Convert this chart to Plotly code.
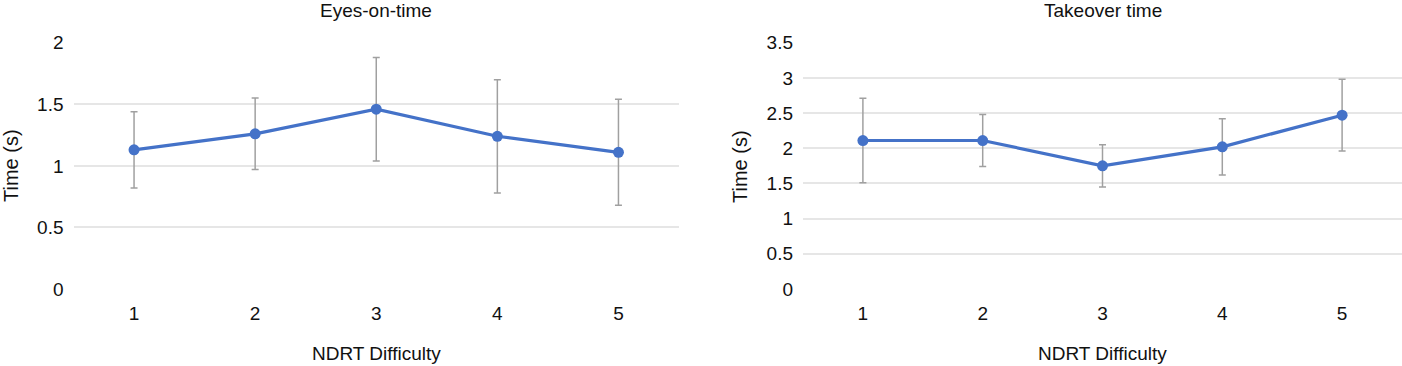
import plotly.graph_objects as go

difficulty = [1, 2, 3, 4, 5]
eyes_on_mean = [1.13, 1.26, 1.46, 1.24, 1.11]
eyes_on_err = [0.31, 0.29, 0.42, 0.46, 0.43]
takeover_mean = [2.11, 2.11, 1.75, 2.02, 2.47]
takeover_err = [0.60, 0.37, 0.30, 0.40, 0.51]

eyes_ticks = [0, 0.5, 1, 1.5, 2]
takeover_ticks = [0, 0.5, 1, 1.5, 2, 2.5, 3, 3.5]

W, H = 1402, 366
LINE = "#4472C8"
ERR = "#A0A0A0"
GRID = "#E6E6E6"
FONT = "Liberation Sans, Arial, Helvetica, sans-serif"
TXT = "#111111"
FS = 19

fig = go.Figure()
fig.add_trace(go.Scatter(
    x=difficulty, y=eyes_on_mean, mode="lines+markers",
    line=dict(color=LINE, width=3.2), marker=dict(color=LINE, size=11),
    error_y=dict(type="data", array=eyes_on_err, visible=True, color=ERR, thickness=1.5, width=3.5),
    xaxis="x", yaxis="y", showlegend=False))
fig.add_trace(go.Scatter(
    x=difficulty, y=takeover_mean, mode="lines+markers",
    line=dict(color=LINE, width=3.2), marker=dict(color=LINE, size=11),
    error_y=dict(type="data", array=takeover_err, visible=True, color=ERR, thickness=1.5, width=3.5),
    xaxis="x2", yaxis="y2", showlegend=False))

ydom = [(H - 289) / H, (H - 42.7) / H]
x1dom = [73.5 / W, 679 / W]
x2dom = [803 / W, 1.0]

common_x = dict(range=[0.5, 5.5], tickvals=difficulty, ticktext=[str(d) for d in difficulty],
                showgrid=False, zeroline=False, showline=False, ticks="", automargin=False,
                tickfont=dict(size=FS, color=TXT, family=FONT), ticklabelstandoff=11)
common_y = dict(showgrid=True, gridcolor=GRID, gridwidth=1.5, zeroline=False, showline=False,
                ticks="", automargin=False, tickfont=dict(size=FS, color=TXT, family=FONT),
                ticklabelstandoff=9, domain=ydom)

fig.update_layout(
    width=W, height=H, autosize=False,
    margin=dict(l=0, r=0, t=0, b=0, pad=0),
    paper_bgcolor="white", plot_bgcolor="white",
    font=dict(family=FONT, color=TXT),
    xaxis=dict(domain=x1dom, anchor="y", **common_x),
    xaxis2=dict(domain=x2dom, anchor="y2", **common_x),
    yaxis=dict(range=[0, 2], tickvals=eyes_ticks, ticktext=["0", "0.5", "1", "1.5", "2"],
               anchor="x", **common_y),
    yaxis2=dict(range=[0, 3.5], tickvals=takeover_ticks,
                ticktext=["0", "0.5", "1", "1.5", "2", "2.5", "3", "3.5"],
                anchor="x2", **common_y),
)

cx1 = (x1dom[0] + x1dom[1]) / 2
cx2 = (x2dom[0] + x2dom[1]) / 2
ann = []
for cx, title in [(cx1, "Eyes-on-time"), (cx2, "Takeover time")]:
    ann.append(dict(x=cx, y=1 - 10.5 / H, xref="paper", yref="paper", text=title, showarrow=False,
                    xanchor="center", yanchor="middle", font=dict(size=FS, color=TXT, family=FONT)))
    ann.append(dict(x=cx, y=1 - 353 / H, xref="paper", yref="paper", text="NDRT Difficulty",
                    showarrow=False, xanchor="center", yanchor="middle",
                    font=dict(size=FS, color=TXT, family=FONT)))
for px in [11, 740]:
    ann.append(dict(x=px / W, y=1 - 166 / H, xref="paper", yref="paper", text="Time (s)",
                    showarrow=False, textangle=-90, xanchor="center", yanchor="middle",
                    font=dict(size=20, color=TXT, family=FONT)))
fig.update_layout(annotations=ann)

fig.write_html("out.html", config={"responsive": False, "displayModeBar": False},
               post_script="document.body.style.margin='0';document.body.style.overflow='hidden';")
